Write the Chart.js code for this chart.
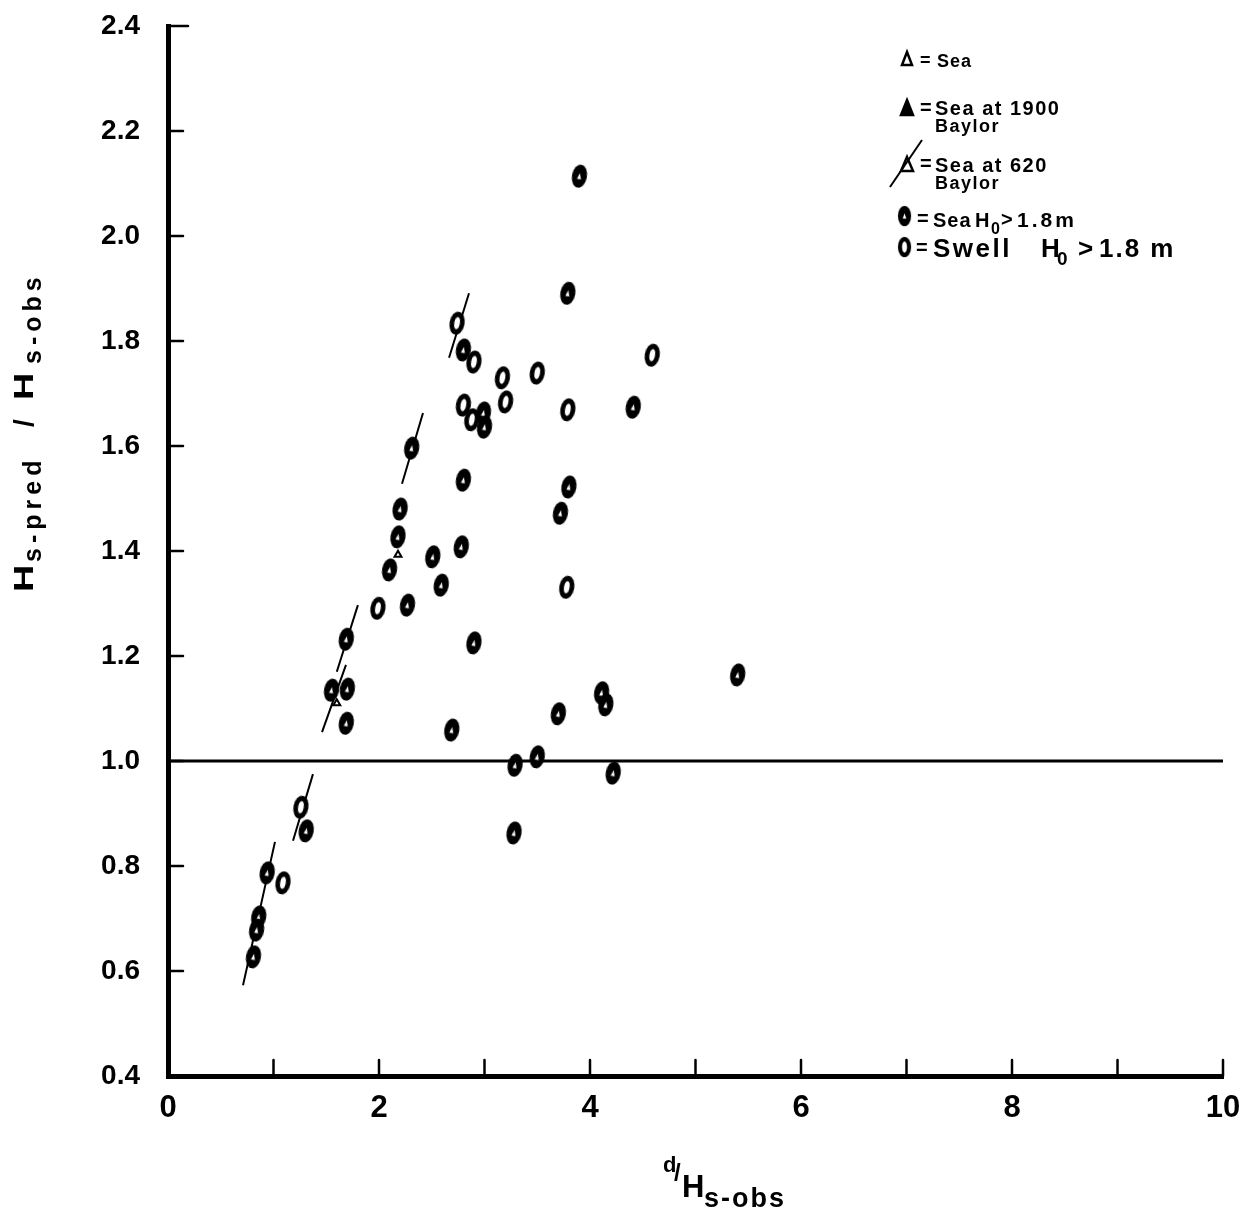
<!DOCTYPE html>
<html><head><meta charset="utf-8">
<script src="https://cdn.jsdelivr.net/npm/chart.js@4.4.1/dist/chart.umd.min.js"></script>
<style>html,body{margin:0;padding:0;background:#fff;overflow:hidden}</style>
</head><body>
<canvas id="c" width="1251" height="1213"></canvas>
<script>
// ---- data ----
const xTickValues = [0,1,2,3,4,5,6,7,8,9,10];
const xTickLabels = ['0','','2','','4','','6','','8','','10'];
const yTickLabels = ['0.4','0.6','0.8','1.0','1.2','1.4','1.6','1.8','2.0','2.2','2.4'];

// Sea, Ho > 1.8 m (filled oval with small triangle)
const seaX = [3.90,3.79,2.80,2.99,3.00,4.41,2.31,2.80,3.80,3.72,2.20,2.18,2.78,2.51,2.10,2.59,2.27,1.69,2.90,5.40,1.55,1.70,4.11,4.15,3.70,1.69,2.69,3.29,3.50,4.22,3.28,1.31,0.94,0.86,0.84,0.81];
const seaY = [2.114,1.891,1.783,1.663,1.636,1.674,1.596,1.535,1.522,1.472,1.480,1.427,1.408,1.389,1.364,1.335,1.297,1.232,1.225,1.164,1.135,1.137,1.130,1.107,1.090,1.072,1.059,0.992,1.008,0.977,0.863,0.867,0.787,0.703,0.678,0.627];

// Swell, Ho > 1.8 m (open oval)
const swellX = [2.74,2.90,3.17,3.50,4.59,3.20,2.80,2.88,3.79,3.78,1.99,1.26,1.09];
const swellY = [1.834,1.760,1.730,1.739,1.773,1.684,1.678,1.650,1.669,1.331,1.291,0.912,0.768];

// Sea (small triangles)
const triX = [2.18,1.60];
const triY = [1.393,1.110];

// Sea at 620 Baylor (slash segments)
const slashX1 = [0.711,1.185,1.460,1.600,2.218,2.664];
const slashY1 = [0.573,0.848,1.055,1.170,1.528,1.768];
const slashX2 = [1.014,1.374,1.687,1.800,2.417,2.853];
const slashY2 = [0.846,0.975,1.183,1.297,1.663,1.891];

// reference line
const refX = [0,10];
const refY = [1.0,1.0];

// ---- markers ----
function makeSea(){
  const c=document.createElement('canvas'); c.width=17; c.height=25;
  const g=c.getContext('2d');
  g.fillStyle='#000'; g.beginPath(); g.ellipse(8.5,12.5,7.5,11.5,0,0,Math.PI*2); g.fill();
  g.fillStyle='#fff'; g.beginPath(); g.moveTo(8.5,9.5); g.lineTo(10.5,15.5); g.lineTo(6.5,15.5); g.closePath(); g.fill();
  return c;
}
function makeSwell(){
  const c=document.createElement('canvas'); c.width=17; c.height=25;
  const g=c.getContext('2d');
  g.fillStyle='#000'; g.beginPath(); g.ellipse(8.5,12.5,7.5,11.5,0,0,Math.PI*2); g.fill();
  g.fillStyle='#fff'; g.beginPath(); g.ellipse(8.5,12.5,2.8,6.2,0,0,Math.PI*2); g.fill();
  return c;
}
const seaImg = makeSea();
const swellImg = makeSwell();

const pts = (xs, ys) => xs.map((x,i)=>({x:x, y:ys[i]}));
const slashData = [];
slashX1.forEach((x,i)=>{
  slashData.push({x:x,y:slashY1[i]});
  slashData.push({x:slashX2[i],y:slashY2[i]});
  slashData.push({x:slashX2[i],y:null});
});

const FONT = '"Liberation Sans", Arial, sans-serif';

const decor = {
  id:'decor',
  afterDraw(chart){
    const ctx = chart.ctx;
    const xs = chart.scales.x, ys = chart.scales.y;
    const ca = chart.chartArea;
    ctx.save();
    ctx.strokeStyle='#000'; ctx.lineWidth=2.5; ctx.lineCap='round';
    // inward ticks
    xs.ticks.forEach(t=>{
      if (t.value<=0) return;
      const px = xs.getPixelForValue(t.value);
      ctx.beginPath(); ctx.moveTo(px, ca.bottom); ctx.lineTo(px, ca.bottom-16); ctx.stroke();
    });
    ys.ticks.forEach(t=>{
      if (t.value<=0.41) return;
      const py = ys.getPixelForValue(t.value);
      const len = t.value>2.39 ? 20 : 15;
      ctx.beginPath(); ctx.moveTo(ca.left, py); ctx.lineTo(ca.left+len, py); ctx.stroke();
    });
    ctx.fillStyle='#000';
    ctx.textBaseline='alphabetic'; ctx.textAlign='left';

    // y axis title (rotated)
    ctx.save();
    ctx.translate(33, 592);
    ctx.rotate(-Math.PI/2);
    ctx.font = 'bold 28px '+FONT;
    ctx.save(); ctx.scale(1.35,1); ctx.fillText('H', 0, 0); ctx.restore();
    ctx.font = 'bold 25px '+FONT;
    ctx.letterSpacing = '5px';
    ctx.fillText('s-pred', 30, 8);
    ctx.letterSpacing = '0px';
    ctx.font = 'bold 28px '+FONT;
    ctx.fillText('/', 165, 0);
    ctx.save(); ctx.translate(192,0); ctx.scale(1.35,1); ctx.fillText('H', 0, 0); ctx.restore();
    ctx.font = 'bold 25px '+FONT;
    ctx.letterSpacing = '5px';
    ctx.fillText('s-obs', 228, 8);
    ctx.letterSpacing = '0px';
    ctx.restore();

    // x axis title
    ctx.font = 'bold 22px '+FONT;
    ctx.fillText('d', 663, 1172);
    ctx.font = 'bold 24px '+FONT;
    ctx.fillText('/', 674, 1181);
    ctx.font = 'bold 31px '+FONT;
    ctx.fillText('H', 682, 1197);
    ctx.font = 'bold 27px '+FONT;
    ctx.letterSpacing = '2px';
    ctx.fillText('s-obs', 704, 1207);
    ctx.letterSpacing = '0px';

    // legend
    // line 1: open triangle
    ctx.lineWidth = 2.5; ctx.lineCap='butt'; ctx.lineJoin='miter';
    ctx.beginPath(); ctx.moveTo(907,52); ctx.lineTo(912,65); ctx.lineTo(902,65); ctx.closePath(); ctx.stroke();
    ctx.font = 'bold 18px '+FONT;
    ctx.fillText('=', 920, 66);
    ctx.letterSpacing = '1px';
    ctx.fillText('Sea', 937, 67);
    ctx.letterSpacing = '0px';
    // line 2: filled triangle
    ctx.beginPath(); ctx.moveTo(907,100); ctx.lineTo(913,115); ctx.lineTo(901,115); ctx.closePath(); ctx.fill(); ctx.stroke();
    ctx.font = 'bold 20px '+FONT;
    ctx.fillText('=', 920, 114);
    ctx.letterSpacing = '1.5px';
    ctx.fillText('Sea at 1900', 935, 115);
    ctx.font = 'bold 18px '+FONT;
    ctx.fillText('Baylor', 935, 132);
    // line 3: triangle with slash
    ctx.beginPath(); ctx.moveTo(907,157); ctx.lineTo(913,171); ctx.lineTo(901,171); ctx.closePath(); ctx.stroke();
    ctx.lineWidth = 2;
    ctx.beginPath(); ctx.moveTo(890,187); ctx.lineTo(922,140); ctx.stroke();
    ctx.font = 'bold 20px '+FONT;
    ctx.letterSpacing = '0px';
    ctx.fillText('=', 920, 170);
    ctx.letterSpacing = '1.5px';
    ctx.fillText('Sea at 620', 935, 172);
    ctx.font = 'bold 18px '+FONT;
    ctx.fillText('Baylor', 935, 189);
    ctx.letterSpacing = '0px';
    // line 4: sea marker
    ctx.drawImage(seaImg, 897, 205, 15, 22);
    ctx.font = 'bold 20px '+FONT;
    ctx.fillText('=', 917, 225);
    ctx.letterSpacing = '1px';
    ctx.fillText('Sea', 933, 227);
    ctx.letterSpacing = '0px';
    ctx.fillText('H', 975, 227);
    ctx.font = 'bold 16px '+FONT;
    ctx.fillText('0', 991, 234);
    ctx.font = 'bold 20px '+FONT;
    ctx.fillText('>', 1001, 226);
    ctx.font = 'bold 21px '+FONT;
    ctx.letterSpacing = '3px';
    ctx.fillText('1.8m', 1017, 227);
    ctx.letterSpacing = '0px';
    // line 5: swell marker
    ctx.drawImage(swellImg, 897, 236, 15, 22);
    ctx.font = 'bold 20px '+FONT;
    ctx.fillText('=', 916, 254);
    ctx.font = '600 26px '+FONT;
    ctx.letterSpacing = '2.5px';
    ctx.fillText('Swell', 933, 257);
    ctx.letterSpacing = '0px';
    ctx.fillText('H', 1041, 257);
    ctx.font = '600 19px '+FONT;
    ctx.fillText('0', 1057, 265);
    ctx.font = '600 26px '+FONT;
    ctx.fillText('>', 1078, 257);
    ctx.letterSpacing = '2px';
    ctx.fillText('1.8 m', 1099, 257);
    ctx.letterSpacing = '0px';
    ctx.restore();
  }
};

new Chart(document.getElementById('c'), {
  type: 'scatter',
  data: {
    datasets: [
      { label:'Sea', data: pts(seaX, seaY), pointStyle: seaImg, pointRotation: 10, pointRadius: 8 },
      { label:'Swell', data: pts(swellX, swellY), pointStyle: swellImg, pointRotation: 10, pointRadius: 8 },
      { label:'Sea (triangle)', data: pts(triX, triY), pointStyle:'triangle', pointRadius:4, backgroundColor:'#fff', borderColor:'#000', borderWidth:2 },
      { label:'Sea at 620 Baylor', type:'line', data: slashData, showLine:true, spanGaps:false, borderColor:'#000', borderWidth:2, pointRadius:0, fill:false },
      { label:'Reference', type:'line', data: pts(refX, refY), showLine:true, borderColor:'#000', borderWidth:3, pointRadius:0, fill:false }
    ]
  },
  options: {
    responsive:false, animation:false, devicePixelRatio:1,
    layout:{ padding:{ top:26, right:28, left:0, bottom:0 } },
    plugins:{ legend:{display:false}, tooltip:{enabled:false} },
    scales:{
      x:{
        type:'linear', min:0, max:10,
        afterFit(s){ s.height = 137; s.paddingLeft = 0; s.paddingRight = 0; },
        afterBuildTicks(s){ s.ticks = xTickValues.map(v=>({value:v})); },
        grid:{ display:false },
        border:{ display:true, color:'#000', width:5 },
        ticks:{ color:'#000', padding:6, maxRotation:0, autoSkip:false,
          font:{ family:FONT, size:31, weight:'bold' },
          callback:(v,i)=>xTickLabels[i] }
      },
      y:{
        type:'linear', min:0.4, max:2.4,
        afterFit(s){ s.width = 168; s.paddingTop = 0; s.paddingBottom = 0; },
        afterBuildTicks(s){ s.ticks = yTickLabels.map(v=>({value:parseFloat(v)})); },
        grid:{ display:false },
        border:{ display:true, color:'#000', width:5 },
        ticks:{ color:'#000', padding:20, autoSkip:false,
          font:{ family:FONT, size:28, weight:'bold' },
          callback:(v,i)=>yTickLabels[i] }
      }
    }
  },
  plugins:[decor]
});
</script>
</body></html>
